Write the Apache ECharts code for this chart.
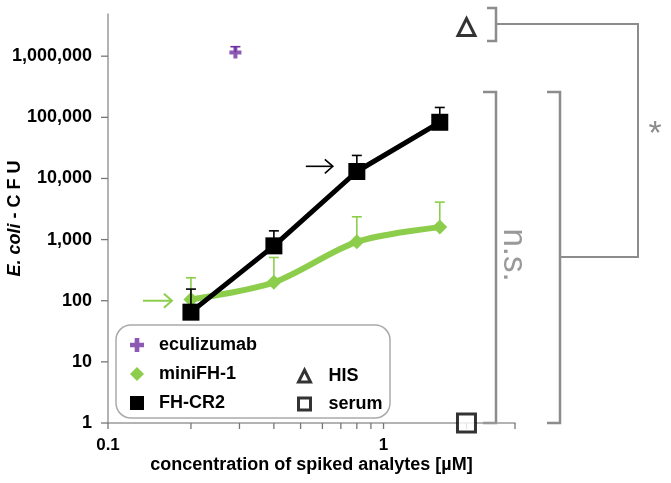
<!DOCTYPE html>
<html>
<head>
<meta charset="utf-8">
<script src="https://cdn.jsdelivr.net/npm/echarts@6/dist/echarts.min.js"></script>
<style>html,body{margin:0;padding:0;background:#fff}#c{width:671px;height:483px}</style>
</head>
<body>
<div id="c"></div>
<script>
// ---- data ----
const conc = [0.2, 0.4, 0.8, 1.6];
const miniFH1 = [105, 200, 920, 1600];
const miniFH1Upper = [237, 510, 2360, 4100];
const fhCR2 = [65, 790, 13000, 83000];
const fhCR2Upper = [155, 1390, 23800, 145000];
const eculizumabX = [0.29];
const eculizumabY = [1150000];
const eculizumabUpper = [1430000];
const hisX = [2];
const hisY = [3000000];
const serumX = [2];
const serumY = [1];
const yTickValues = [1, 10, 100, 1000, 10000, 100000, 1000000];
const xTickValues = [0.1, 0.2, 0.3, 0.4, 0.5, 0.6, 0.7, 0.8, 0.9, 1, 2, 3];
const xLabelValues = [0.1, 1];

const GREEN = '#8cce4c';
const PURPLE = '#7030a0';
const GRAY = '#8c8c8c';
const AXIS = '#9a9a9a';
const TICK = '#777777';
const FONT = 'Arial, "Liberation Sans", sans-serif';

const pairs = (xs, ys) => xs.map((x, i) => [x, ys[i]]);
const errData = (xs, ys, up) => xs.map((x, i) => [x, ys[i], up[i]]);

function errSeries(data, color, z) {
  return {
    type: 'custom', z: z, silent: true,
    data: data,
    encode: { x: 0, y: [1, 2] },
    renderItem: function (params, api) {
      const x = api.value(0), lo = api.value(1), hi = api.value(2);
      const p0 = api.coord([x, lo]), p1 = api.coord([x, hi]);
      const st = { stroke: color, lineWidth: 1.6 };
      return { type: 'group', children: [
        { type: 'line', shape: { x1: p0[0], y1: p0[1], x2: p1[0], y2: p1[1] }, style: st },
        { type: 'line', shape: { x1: p1[0] - 5, y1: p1[1], x2: p1[0] + 5, y2: p1[1] }, style: st }
      ]};
    }
  };
}

// axis tick marks drawn through the axis scales
const xTickSeries = {
  type: 'custom', z: 6, silent: true, clip: false,
  data: xTickValues.map(v => [v, yTickValues[0]]),
  encode: { x: 0, y: 1 },
  renderItem: function (params, api) {
    const p = api.coord([api.value(0), api.value(1)]);
    return { type: 'line', shape: { x1: p[0], y1: p[1], x2: p[0], y2: p[1] + 6 },
      style: { stroke: TICK, lineWidth: 1.3 } };
  }
};
const yTickSeries = {
  type: 'custom', z: 6, silent: true, clip: false,
  data: yTickValues.map(v => [xTickValues[0], v]),
  encode: { x: 0, y: 1 },
  renderItem: function (params, api) {
    const p = api.coord([api.value(0), api.value(1)]);
    return { type: 'line', shape: { x1: p[0] - 7, y1: p[1], x2: p[0], y2: p[1] },
      style: { stroke: TICK, lineWidth: 1.3 } };
  }
};

const plusPath = 'path://M4,0h4v4h4v4h-4v4h-4v-4h-4v-4h4z';
const legendText = { fontFamily: FONT, fontWeight: 'bold', fontSize: 18, color: '#000' };
const openStyle = { color: '#fff', borderColor: '#000', borderWidth: 3 };

const chart = echarts.init(document.getElementById('c'));
const option = {
  animation: false,
  backgroundColor: '#fff',
  grid: { left: 108, right: 156, top: 14, bottom: 60, outerBoundsMode: 'none', containLabel: false },
  xAxis: {
    type: 'log', logBase: 10, min: 0.1, max: 3,
    name: 'concentration of spiked analytes [µM]',
    nameLocation: 'middle', nameGap: 33, nameMoveOverlap: false,
    nameTextStyle: { fontFamily: FONT, fontWeight: 'bold', fontSize: 18, color: '#000' },
    axisLine: { lineStyle: { color: AXIS, width: 1.5 } },
    axisTick: { show: false },
    axisLabel: { customValues: xLabelValues, fontFamily: FONT, fontWeight: 'bold', fontSize: 17, color: '#000', margin: 14,
      formatter: v => String(v) },
    splitLine: { show: false }, minorTick: { show: false }
  },
  yAxis: {
    type: 'log', logBase: 10, min: 1, max: 4900000,
    name: '{i|E. coli}{b| - C F U}',
    nameLocation: 'middle', nameGap: 84, nameMoveOverlap: false,
    nameTextStyle: { rich: {
      i: { fontFamily: FONT, fontWeight: 'bold', fontStyle: 'italic', fontSize: 18, color: '#000' },
      b: { fontFamily: FONT, fontWeight: 'bold', fontSize: 18, color: '#000' } } },
    axisLine: { show: true, lineStyle: { color: AXIS, width: 1.5 } },
    axisTick: { show: false },
    axisLabel: { customValues: yTickValues, fontFamily: FONT, fontWeight: 'bold', fontSize: 18, color: '#000', margin: 16,
      formatter: v => Math.round(v).toLocaleString('en-US') },
    splitLine: { show: false }
  },
  legend: [
    { orient: 'vertical', left: 125, top: 331, itemWidth: 14, itemHeight: 14, itemGap: 11,
      textStyle: Object.assign({ padding: [0, 0, 0, 10] }, legendText),
      data: [
        { name: 'eculizumab', icon: plusPath },
        { name: 'miniFH-1', icon: 'diamond' },
        { name: 'FH-CR2', icon: 'rect' }
      ] },
    { orient: 'vertical', left: 292, top: 362, itemWidth: 12, itemHeight: 12, itemGap: 10,
      textStyle: Object.assign({ padding: [0, 0, 0, 13] }, legendText),
      data: [
        { name: 'HIS', icon: 'triangle', itemStyle: openStyle },
        { name: 'serum', icon: 'rect', itemStyle: openStyle }
      ] }
  ],
  series: [
    xTickSeries,
    yTickSeries,
    errSeries(errData(conc, miniFH1, miniFH1Upper), GREEN, 2),
    { name: 'miniFH-1', type: 'line', z: 3, smooth: 0.3, data: pairs(conc, miniFH1),
      symbol: 'diamond', symbolSize: 15, itemStyle: { color: GREEN },
      lineStyle: { color: GREEN, width: 6 } },
    errSeries(errData(conc, fhCR2, fhCR2Upper), '#000', 4),
    { name: 'FH-CR2', type: 'line', z: 5, data: pairs(conc, fhCR2),
      symbol: 'rect', symbolSize: 17, itemStyle: { color: '#000' },
      lineStyle: { color: '#000', width: 5 } },
    errSeries(errData(eculizumabX, eculizumabY, eculizumabUpper), PURPLE, 4),
    { name: 'eculizumab', type: 'scatter', z: 5, data: pairs(eculizumabX, eculizumabY),
      symbol: plusPath, symbolSize: 12, itemStyle: { color: PURPLE } },
    { name: 'HIS', type: 'scatter', z: 5, data: pairs(hisX, hisY),
      symbol: 'triangle', symbolSize: 17, itemStyle: openStyle },
    { name: 'serum', type: 'scatter', z: 7, clip: false, data: pairs(serumX, serumY),
      symbol: 'rect', symbolSize: 18, itemStyle: openStyle }
  ]
};
chart.setOption(option);

// ---- annotations (arrows, brackets, significance) ----
function arrow(tip, len, color, w) {
  return { type: 'group', silent: true, z: 10, children: [
    { type: 'polyline', shape: { points: [[tip[0] - len, tip[1]], [tip[0], tip[1]]] }, style: { stroke: color, lineWidth: w, fill: null } },
    { type: 'polyline', shape: { points: [[tip[0] - 8, tip[1] - 7], [tip[0], tip[1]], [tip[0] - 8, tip[1] + 7]] }, style: { stroke: color, lineWidth: w, fill: null } }
  ]};
}
const pGreen = chart.convertToPixel({ gridIndex: 0 }, [conc[0], 100]);
const pBlack = chart.convertToPixel({ gridIndex: 0 }, [conc[2], 15800]);
const br = { stroke: GRAY, lineWidth: 2.5, fill: null };
chart.setOption({
  graphic: [
    { type: 'rect', z: 1, silent: true, shape: { x: 116, y: 325, width: 274, height: 93, r: 15 },
      style: { fill: '#fff', stroke: '#aaaaaa', lineWidth: 1.5 } },
    arrow([pGreen[0] - 19, pGreen[1]], 29, GREEN, 2),
    arrow([pBlack[0] - 24, pBlack[1]], 27, '#000', 1.6),
    { type: 'polyline', silent: true, shape: { points: [[487, 8], [496, 8], [496, 41], [487, 41]] }, style: br },
    { type: 'polyline', silent: true, shape: { points: [[496, 24], [638, 24], [638, 257], [560, 257]] }, style: { stroke: GRAY, lineWidth: 2, fill: null } },
    { type: 'polyline', silent: true, shape: { points: [[483, 92], [496, 92], [496, 423], [483, 423]] }, style: br },
    { type: 'polyline', silent: true, shape: { points: [[547, 92], [560, 92], [560, 423], [547, 423]] }, style: br },
    { type: 'text', silent: true, x: 513, y: 255, rotation: -Math.PI / 2,
      style: { text: 'n.s.', fontFamily: FONT, fontSize: 33, fill: '#999', align: 'center', verticalAlign: 'middle' } },
    { type: 'text', silent: true, x: 655, y: 135,
      style: { text: '*', fontFamily: FONT, fontSize: 34, fill: GRAY, align: 'center', verticalAlign: 'middle' } }
  ]
});
</script>
</body>
</html>
